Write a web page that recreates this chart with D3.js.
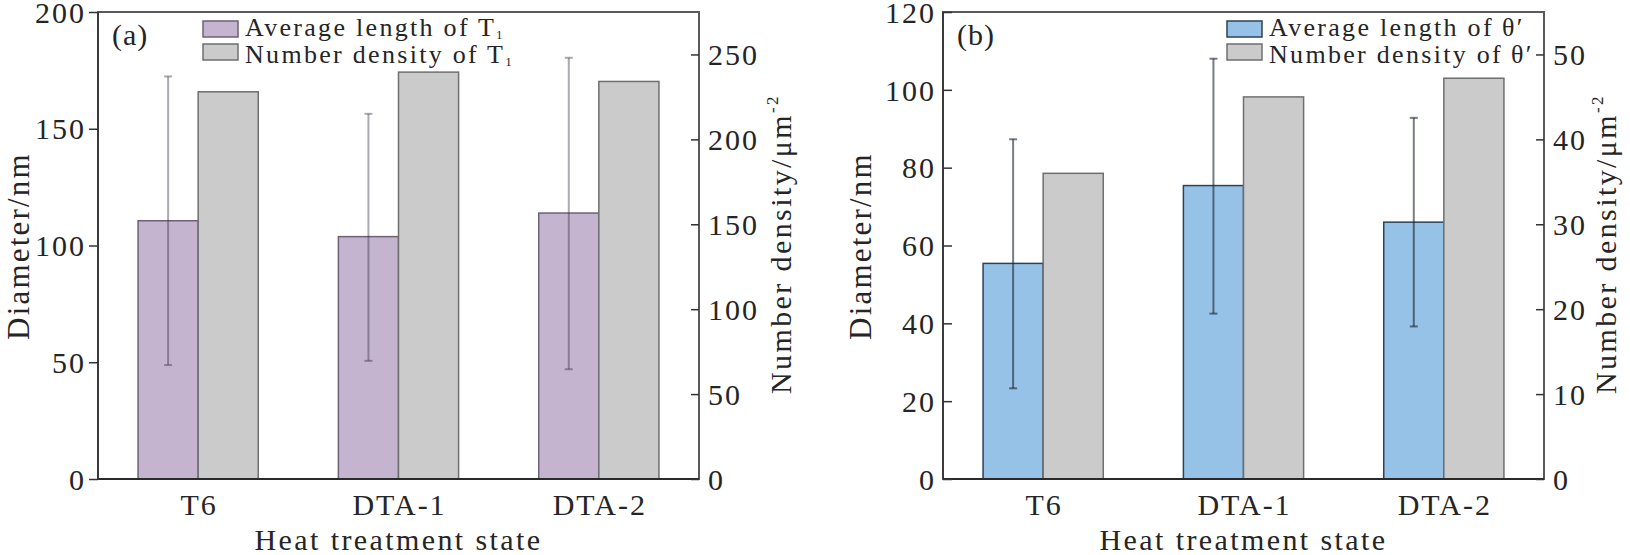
<!DOCTYPE html>
<html>
<head>
<meta charset="utf-8">
<script src="https://cdn.jsdelivr.net/npm/d3@7/dist/d3.min.js"></script>
<style>
    body { margin: 0; background: #fff; }
    text { font-family: "Liberation Serif", "Times New Roman", serif; fill: #252525; }
</style>
</head>
<body>
<svg id="chart" width="1630" height="555"></svg>
<script>
var states = ["T6", "DTA-1", "DTA-2"];

// panel (a): T1 precipitates
var t1Length = [110.6, 103.8, 113.9];
var t1ErrLow = [48.8, 50.6, 47.0];
var t1ErrHigh = [172.4, 156.4, 180.4];
var t1Density = [228.0, 239.6, 234.1];
var leftTicksA = [0, 50, 100, 150, 200];
var rightTicksA = [0, 50, 100, 150, 200, 250];

// panel (b): theta' precipitates
var thLength = [55.4, 75.4, 66.0];
var thErrLow = [23.3, 42.5, 39.2];
var thErrHigh = [87.3, 108.0, 92.8];
var thDensity = [36.0, 45.0, 47.2];
var leftTicksB = [0, 20, 40, 60, 80, 100, 120];
var rightTicksB = [0, 10, 20, 30, 40, 50];

var svg = d3.select("#chart");
var top_y = 12, bottom_y = 479;

var drawPanel = function(p) {
    var g = svg.append("g");
    var x = d3.scaleBand().domain(states).range([p.x0, p.x1]);
    var bw = x.bandwidth() * 0.3;
    var yL = d3.scaleLinear().domain([0, p.leftMax]).range([bottom_y, top_y]);
    var yR = d3.scaleLinear().domain([0, p.rightMax]).range([bottom_y, top_y]);
    var center = function(d) { return x(d) + x.bandwidth() / 2; };

    // length bars (left axis)
    g.selectAll(".len").data(states).enter().append("rect")
        .attr("x", function(d) { return center(d) - bw; })
        .attr("y", function(d, i) { return yL(p.length[i]); })
        .attr("width", bw)
        .attr("height", function(d, i) { return bottom_y - yL(p.length[i]); })
        .attr("fill", p.fill)
        .attr("stroke", p.stroke)
        .attr("stroke-width", 1.5);

    // density bars (right axis)
    g.selectAll(".den").data(states).enter().append("rect")
        .attr("x", function(d) { return center(d); })
        .attr("y", function(d, i) { return yR(p.density[i]); })
        .attr("width", bw)
        .attr("height", function(d, i) { return bottom_y - yR(p.density[i]); })
        .attr("fill", "#cbcbcb")
        .attr("stroke", "#6f6f6f")
        .attr("stroke-width", 1.5);

    // error bars
    var eb = g.selectAll(".err").data(states).enter().append("g")
        .attr("stroke", p.errColor)
        .attr("stroke-opacity", p.errOpacity)
        .attr("stroke-width", 2);
    eb.append("line")
        .attr("x1", function(d) { return center(d) - bw / 2; })
        .attr("x2", function(d) { return center(d) - bw / 2; })
        .attr("y1", function(d, i) { return yL(p.errLow[i]); })
        .attr("y2", function(d, i) { return yL(p.errHigh[i]); });
    [p.errLow, p.errHigh].forEach(function(arr) {
        eb.append("line")
            .attr("x1", function(d) { return center(d) - bw / 2 - 4; })
            .attr("x2", function(d) { return center(d) - bw / 2 + 4; })
            .attr("y1", function(d, i) { return yL(arr[i]); })
            .attr("y2", function(d, i) { return yL(arr[i]); });
    });

    // frame
    g.append("rect")
        .attr("x", p.x0).attr("y", top_y)
        .attr("width", p.x1 - p.x0).attr("height", bottom_y - top_y)
        .attr("fill", "none").attr("stroke", "#5a5a5a").attr("stroke-width", 2);
    g.append("line")
        .attr("x1", p.x0).attr("x2", p.x1).attr("y1", bottom_y).attr("y2", bottom_y)
        .attr("stroke", "#2a2a2a").attr("stroke-width", 2);
    g.append("line")
        .attr("x1", p.x0).attr("x2", p.x0).attr("y1", top_y).attr("y2", bottom_y)
        .attr("stroke", "#3a3a3a").attr("stroke-width", 2);

    // axes
    var la = d3.axisLeft(yL).tickValues(p.leftTicks).tickSizeOuter(0)
        .tickSizeInner(p.leftTickIn ? -9 : 9).tickPadding(p.leftTickIn ? 7 : 3);
    var lg = g.append("g").attr("transform", "translate(" + p.x0 + ",0)").call(la);
    var ra = d3.axisRight(yR).tickValues(p.rightTicks).tickSizeOuter(0)
        .tickSizeInner(-8).tickPadding(9);
    var rg = g.append("g").attr("transform", "translate(" + p.x1 + ",0)").call(ra);
    [lg, rg].forEach(function(ax) {
        ax.select(".domain").remove();
        ax.selectAll("line").attr("stroke", "#333").attr("stroke-width", 1.5);
        ax.selectAll("text").attr("font-size", 30).attr("letter-spacing", 2)
            .attr("fill", "#252525").attr("font-family", null).attr("dy", "0.34em");
    });

    // category labels
    g.selectAll(".cat").data(states).enter().append("text")
        .attr("x", function(d) { return center(d) + 1; })
        .attr("y", 515)
        .attr("text-anchor", "middle")
        .attr("font-size", 30)
        .attr("letter-spacing", 2)
        .text(function(d) { return d; });

    g.append("text")
        .attr("x", (p.x0 + p.x1) / 2).attr("y", 550)
        .attr("text-anchor", "middle")
        .attr("font-size", 30).attr("letter-spacing", 2.4)
        .text("Heat treatment state");

    g.append("text")
        .attr("transform", "translate(" + p.leftTitleX + ",246) rotate(-90)")
        .attr("text-anchor", "middle")
        .attr("font-size", 31).attr("letter-spacing", 2.2)
        .text("Diameter/nm");

    var rt = g.append("text")
        .attr("transform", "translate(" + p.rightTitleX + ",244) rotate(-90)")
        .attr("text-anchor", "middle")
        .attr("font-size", 30).attr("letter-spacing", 2.4);
    rt.append("tspan").text("Number density/\u03bcm");
    rt.append("tspan").attr("font-size", 17).attr("dy", -13).text("-2");

    // panel tag
    g.append("text")
        .attr("x", p.x0 + 14).attr("y", 45)
        .attr("font-size", 30).attr("letter-spacing", 1)
        .text(p.tag);

    // legend
    var names = ["Average length of", "Number density of"];
    var lx = p.legendX;
    names.forEach(function(name, i) {
        g.append("rect")
            .attr("x", lx).attr("y", 21 + i * 23)
            .attr("width", 35).attr("height", 16)
            .attr("fill", i == 0 ? p.fill : "#cbcbcb")
            .attr("stroke", i == 0 ? p.stroke : "#6f6f6f")
            .attr("stroke-width", 1.5);
        var t = g.append("text")
            .attr("x", lx + 42).attr("y", 36 + i * 27)
            .attr("font-size", 26).attr("letter-spacing", 2.3);
        t.append("tspan").text(name);
        t.append("tspan").attr("dx", 8).text(p.symbol);
        if(p.sub) {
            t.append("tspan").attr("font-size", 13).attr("dy", 3).text(p.sub);
        }
    });
};

drawPanel({
    x0: 98, x1: 699,
    leftMax: 200, rightMax: 275,
    leftTicks: leftTicksA, rightTicks: rightTicksA, leftTickIn: false,
    length: t1Length, errLow: t1ErrLow, errHigh: t1ErrHigh, density: t1Density,
    fill: "#c4b4d0", stroke: "#6c6274",
    errColor: "#33283c", errOpacity: 0.4,
    leftTitleX: 29, rightTitleX: 791,
    tag: "(a)", legendX: 203, symbol: "T", sub: "1"
});

drawPanel({
    x0: 943, x1: 1544,
    leftMax: 120, rightMax: 55,
    leftTicks: leftTicksB, rightTicks: rightTicksB, leftTickIn: true,
    length: thLength, errLow: thErrLow, errHigh: thErrHigh, density: thDensity,
    fill: "#97c2e7", stroke: "#2c4256",
    errColor: "#1c2630", errOpacity: 0.6,
    leftTitleX: 871, rightTitleX: 1616,
    tag: "(b)", legendX: 1227, symbol: "\u03b8\u2032", sub: null
});
</script>
</body>
</html>
